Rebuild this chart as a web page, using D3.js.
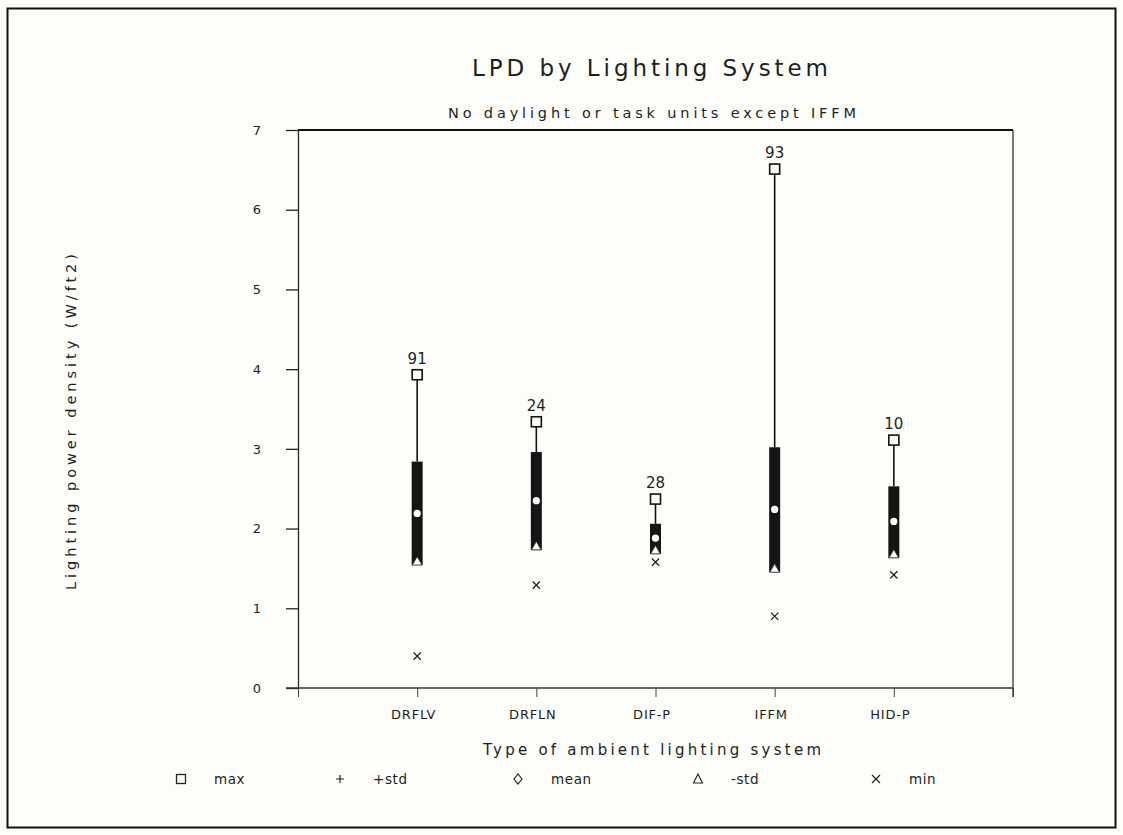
<!DOCTYPE html>
<html>
<head>
<meta charset="utf-8">
<script src="https://cdn.jsdelivr.net/npm/d3@7"></script>
<style>
  html, body { margin: 0; padding: 0; background: #fdfdf9; }
  svg { display: block; }
  text { font-family: "DejaVu Sans", "Liberation Sans", sans-serif; fill: #1e1e1e; }
</style>
</head>
<body>
<svg id="chart" width="1123" height="835"></svg>
<script>
// Lighting system categories and summary statistics (W/ft2)
const categories = ["DRFLV", "DRFLN", "DIF-P", "IFFM", "HID-P"];
const maxValues  = [3.93, 3.34, 2.37, 6.51, 3.11];
const plusStd    = [2.84, 2.96, 2.06, 3.02, 2.53];
const meanValues = [2.19, 2.35, 1.88, 2.24, 2.09];
const minusStd   = [1.54, 1.73, 1.68, 1.45, 1.63];
const minValues  = [0.40, 1.29, 1.58, 0.90, 1.42];
const counts     = [91, 24, 28, 93, 10];
const yTicks     = [0, 1, 2, 3, 4, 5, 6, 7];
const legendItems = ["max", "+std", "mean", "-std", "min"];

const svg = d3.select("#chart");
const plotLeft = 298, plotRight = 1013, plotTop = 130, plotBottom = 688;

// outer frame
svg.append("rect")
  .attr("x", 7.5).attr("y", 8.5).attr("width", 1108).attr("height", 819)
  .attr("fill", "none").attr("stroke", "#111").attr("stroke-width", 2);

const x = d3.scaleLinear().domain([0, categories.length + 1]).range([plotLeft, plotRight]);
const y = d3.scaleLinear().domain([0, 7]).range([plotBottom, plotTop]);

// y axis with outward ticks
const yAxis = svg.append("g").attr("transform", `translate(${plotLeft},0)`)
  .call(d3.axisLeft(y).tickValues(yTicks).tickFormat(d3.format("d"))
    .tickSize(12).tickPadding(0).tickSizeOuter(0));
yAxis.select(".domain").attr("stroke", "#222").attr("stroke-width", 1.3);
yAxis.selectAll(".tick line").attr("stroke", "#222").attr("stroke-width", 1.3);
yAxis.selectAll(".tick text").style("font-size", "13px").attr("fill", "#333")
  .attr("text-anchor", "middle").attr("x", -41);

// x axis with downward ticks at each category and at the ends
const xAxis = svg.append("g").attr("transform", `translate(0,${plotBottom})`)
  .call(d3.axisBottom(x).tickValues(d3.range(0, categories.length + 2)).tickSize(9)
    .tickFormat(d => (d >= 1 && d <= categories.length) ? categories[d - 1] : "")
    .tickPadding(13).tickSizeOuter(0));
xAxis.select(".domain").attr("stroke", "#333").attr("stroke-width", 1.3)
  .attr("d", `M${plotLeft - 12},0H${plotRight}`);
xAxis.selectAll(".tick line").attr("stroke", "#444").attr("stroke-width", 1);
xAxis.selectAll(".tick text").style("font-size", "13px").attr("fill", "#222")
  .attr("dx", -4).style("letter-spacing", "0.8px");

// top and right frame of the plot area
svg.append("line").attr("x1", plotLeft).attr("x2", plotRight).attr("y1", y(7)).attr("y2", y(7))
  .attr("stroke", "#111").attr("stroke-width", 2);
svg.append("line").attr("x1", plotRight).attr("x2", plotRight).attr("y1", y(7)).attr("y2", plotBottom + 9)
  .attr("stroke", "#333").attr("stroke-width", 1.3);

// titles
svg.append("text").attr("x", 650).attr("y", 76).attr("text-anchor", "middle")
  .style("font-size", "23px").attr("textLength", 356).attr("lengthAdjust", "spacing")
  .text("LPD by Lighting System");
svg.append("text").attr("x", 652).attr("y", 118).attr("text-anchor", "middle")
  .style("font-size", "14.5px").attr("textLength", 408).attr("lengthAdjust", "spacing")
  .text("No daylight or task units except IFFM");
svg.append("text").attr("transform", "translate(76,422) rotate(-90)").attr("text-anchor", "middle")
  .style("font-size", "14.5px").attr("textLength", 336).attr("lengthAdjust", "spacing")
  .attr("fill", "#333")
  .text("Lighting power density (W/ft2)");
svg.append("text").attr("x", 652).attr("y", 755).attr("text-anchor", "middle")
  .style("font-size", "15px").attr("textLength", 338).attr("lengthAdjust", "spacing")
  .text("Type of ambient lighting system");

// boxes: thin whisker max → +std, thick bar between ±std
const g = svg.append("g");
categories.forEach((c, i) => {
  const cx = x(i + 1);
  g.append("line").attr("x1", cx).attr("x2", cx).attr("y1", y(maxValues[i]) + 5).attr("y2", y(plusStd[i]))
    .attr("stroke", "#111").attr("stroke-width", 1.6);
  g.append("rect").attr("x", cx - 5.5).attr("width", 11)
    .attr("y", y(plusStd[i])).attr("height", y(minusStd[i]) - y(plusStd[i]))
    .attr("fill", "#151515");
  // max square
  g.append("rect").attr("x", cx - 5).attr("y", y(maxValues[i]) - 5).attr("width", 10).attr("height", 10)
    .attr("fill", "#fdfdf9").attr("stroke", "#111").attr("stroke-width", 1.6);
  // count label
  g.append("text").attr("x", cx).attr("y", y(maxValues[i]) - 11).attr("text-anchor", "middle")
    .style("font-size", "15px").text(counts[i]);
  // mean
  g.append("circle").attr("cx", cx).attr("cy", y(meanValues[i])).attr("r", 3.6).attr("fill", "#fff");
  // -std triangle
  g.append("path").attr("d", d3.symbol(d3.symbolTriangle, 40)())
    .attr("transform", `translate(${cx},${y(minusStd[i]) - 3})`)
    .attr("fill", "#fff").attr("stroke", "#333").attr("stroke-width", 0.8);
  // min cross
  g.append("path").attr("d", d3.symbol(d3.symbolX, 36)())
    .attr("transform", `translate(${cx},${y(minValues[i])})`)
    .attr("fill", "none").attr("stroke", "#222").attr("stroke-width", 1.3);
});

// legend
const legX = [181, 340, 518, 698, 876];
const ly = 779;
const lg = svg.append("g");
lg.append("rect").attr("x", legX[0] - 4.5).attr("y", ly - 4.5).attr("width", 9).attr("height", 9)
  .attr("fill", "none").attr("stroke", "#222").attr("stroke-width", 1.3);
lg.append("path").attr("d", "M-4,0H4M0,-4V4").attr("transform", `translate(${legX[1]},${ly})`)
  .attr("stroke", "#222").attr("stroke-width", 1.2);
lg.append("path").attr("d", "M0,-5L4,0L0,5L-4,0Z").attr("transform", `translate(${legX[2]},${ly})`)
  .attr("fill", "none").attr("stroke", "#222").attr("stroke-width", 1.2);
lg.append("path").attr("d", "M0,-5L4.5,4L-4.5,4Z").attr("transform", `translate(${legX[3]},${ly})`)
  .attr("fill", "none").attr("stroke", "#222").attr("stroke-width", 1.1);
lg.append("path").attr("d", "M-4,-4L4,4M4,-4L-4,4").attr("transform", `translate(${legX[4]},${ly})`)
  .attr("stroke", "#222").attr("stroke-width", 1.2);
legendItems.forEach((t, i) => {
  lg.append("text").attr("x", legX[i] + 33).attr("y", ly + 5).style("font-size", "13.5px")
    .style("letter-spacing", "0.6px").text(t);
});
</script>
</body>
</html>
